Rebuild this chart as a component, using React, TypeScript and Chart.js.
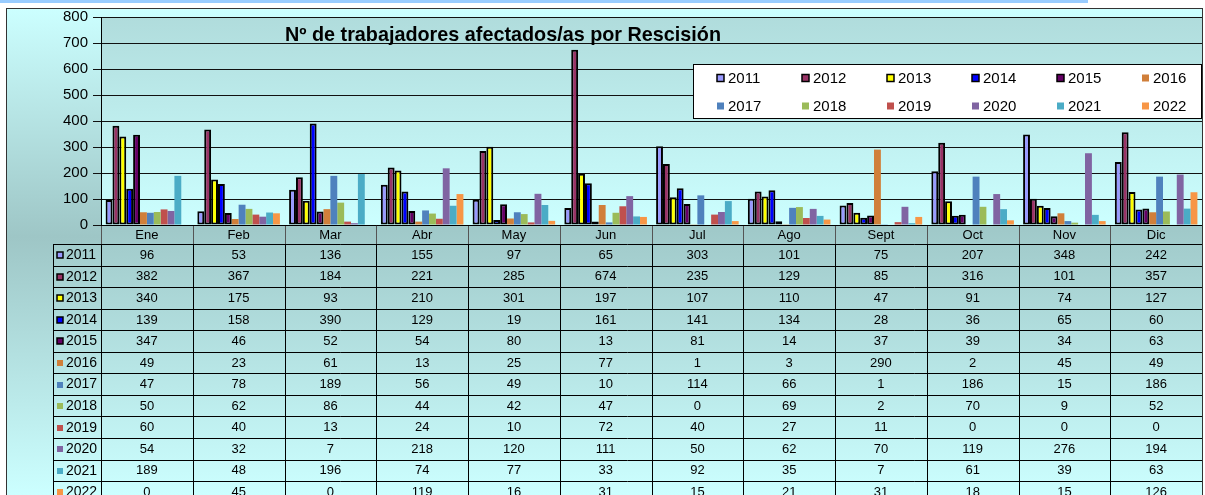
import React, { useEffect, useRef } from "react";
import Chart from "chart.js/auto";

const CATEGORIES = ["Ene", "Feb", "Mar", "Abr", "May", "Jun", "Jul", "Ago", "Sept", "Oct", "Nov", "Dic"];
const YEARS = ["2011", "2012", "2013", "2014", "2015", "2016", "2017", "2018", "2019", "2020", "2021", "2022"];

const V2011 = [96, 53, 136, 155, 97, 65, 303, 101, 75, 207, 348, 242];
const V2012 = [382, 367, 184, 221, 285, 674, 235, 129, 85, 316, 101, 357];
const V2013 = [340, 175, 93, 210, 301, 197, 107, 110, 47, 91, 74, 127];
const V2014 = [139, 158, 390, 129, 19, 161, 141, 134, 28, 36, 65, 60];
const V2015 = [347, 46, 52, 54, 80, 13, 81, 14, 37, 39, 34, 63];
const V2016 = [49, 23, 61, 13, 25, 77, 1, 3, 290, 2, 45, 49];
const V2017 = [47, 78, 189, 56, 49, 10, 114, 66, 1, 186, 15, 186];
const V2018 = [50, 62, 86, 44, 42, 47, 0, 69, 2, 70, 9, 52];
const V2019 = [60, 40, 13, 24, 10, 72, 40, 27, 11, 0, 0, 0];
const V2020 = [54, 32, 7, 218, 120, 111, 50, 62, 70, 119, 276, 194];
const V2021 = [189, 48, 196, 74, 77, 33, 92, 35, 7, 61, 39, 63];
const V2022 = [0, 45, 0, 119, 16, 31, 15, 21, 31, 18, 15, 126];

const SERIES = [V2011, V2012, V2013, V2014, V2015, V2016, V2017, V2018, V2019, V2020, V2021, V2022];

const Y_TICKS = [0, 100, 200, 300, 400, 500, 600, 700, 800];

const COLORS = ["#9999ff", "#993366", "#ffff00", "#0000ff", "#660066", "#d07f3a", "#4f81bd", "#9bbb59", "#c0504d", "#8064a2", "#4bacc6", "#f79646"];
const OUTLINED = [true, true, true, true, true, false, false, false, false, false, false, false];

const TITLE = "Nº de trabajadores afectados/as por Rescisión";
const FONT = '"Liberation Sans", Arial, sans-serif';

export default function App() {
  const ref = useRef<HTMLCanvasElement | null>(null);

  useEffect(() => {
    const canvas = ref.current;
    if (!canvas) return;

    const bgPlugin = {
      id: "bgPlugin",
      beforeDraw(chart: any) {
        const ctx = chart.ctx;
        const ca = chart.chartArea;
        const W = chart.width;
        const H = chart.height;
        ctx.save();
        ctx.fillStyle = "#ffffff";
        ctx.fillRect(0, 0, W, H);
        ctx.fillStyle = "#99ccff";
        ctx.fillRect(0, 0, 1088, 3);
        // outer area
        const og = ctx.createLinearGradient(0, 8, 0, H);
        og.addColorStop(0, "#ccffff");
        og.addColorStop(0.47, "#9ec6c6");
        og.addColorStop(1, "#ccffff");
        ctx.fillStyle = og;
        ctx.fillRect(6, 8, ca.right - 6, H - 8);
        // plot area
        const pg = ctx.createLinearGradient(0, ca.top, 0, ca.bottom);
        pg.addColorStop(0, "#b0dcdc");
        pg.addColorStop(1, "#ccffff");
        ctx.fillStyle = pg;
        ctx.fillRect(ca.left, ca.top, ca.right - ca.left, ca.bottom - ca.top);
        // table area
        const tg = ctx.createLinearGradient(0, ca.bottom, 0, H);
        tg.addColorStop(0, "#9fc8c8");
        tg.addColorStop(1, "#ccffff");
        ctx.fillStyle = tg;
        ctx.fillRect(ca.left, ca.bottom, ca.right - ca.left, H - ca.bottom);
        ctx.fillRect(53, ca.bottom + 19, ca.left - 53, H - ca.bottom - 19);
        ctx.restore();
      },
      afterDraw(chart: any) {
        const ctx = chart.ctx;
        const ca = chart.chartArea;
        const H = chart.height;
        const xs = chart.scales.x;
        const n = CATEGORIES.length;
        const cw = (ca.right - ca.left) / n;
        const headerH = 19;
        const rowH = 21.55;
        const tableTop = ca.bottom;
        const bodyTop = tableTop + headerH;
        const legLeft = 53;
        ctx.save();

        // header text
        ctx.fillStyle = "#000";
        ctx.font = `13px ${FONT}`;
        ctx.textAlign = "center";
        ctx.textBaseline = "middle";
        CATEGORIES.forEach((c, i) => {
          const cx = xs.getPixelForValue(i);
          ctx.fillText(c, cx, tableTop + headerH / 2 + 1);
        });
        // body values
        SERIES.forEach((vals, r) => {
          const cy = bodyTop + rowH * r + rowH / 2 + 0.5;
          vals.forEach((v, i) => {
            const cx = xs.getPixelForValue(i);
            ctx.fillText(String(v), cx, cy);
          });
          // legend column
          const sw = 6;
          const sx = 57;
          const sy = Math.round(cy - sw / 2);
          ctx.fillStyle = COLORS[r];
          ctx.fillRect(sx, sy, sw, sw);
          if (OUTLINED[r]) {
            ctx.strokeStyle = "#000";
            ctx.lineWidth = 1.5;
            ctx.strokeRect(sx, sy, sw, sw);
          }
          ctx.fillStyle = "#000";
          ctx.textAlign = "left";
          ctx.font = `14px ${FONT}`;
          ctx.fillText(YEARS[r], 66, cy);
          ctx.textAlign = "center";
          ctx.font = `13px ${FONT}`;
        });

        // header grid lines (gray)
        ctx.strokeStyle = "#555";
        ctx.lineWidth = 1;
        for (let i = 0; i <= n; i++) {
          const x = Math.round(ca.left + cw * i) + 0.5;
          ctx.beginPath();
          ctx.moveTo(x, tableTop);
          ctx.lineTo(x, bodyTop);
          ctx.stroke();
        }
        // body grid lines (black)
        ctx.strokeStyle = "#000";
        for (let i = 0; i <= n; i++) {
          const x = Math.round(ca.left + cw * i) + 0.5;
          ctx.beginPath();
          ctx.moveTo(x, bodyTop);
          ctx.lineTo(x, H);
          ctx.stroke();
        }
        ctx.beginPath();
        ctx.moveTo(legLeft + 0.5, bodyTop);
        ctx.lineTo(legLeft + 0.5, H);
        ctx.stroke();
        for (let r = 0; r <= SERIES.length; r++) {
          const y = Math.round(bodyTop + rowH * r) + 0.5;
          ctx.beginPath();
          ctx.moveTo(legLeft, y);
          ctx.lineTo(ca.right, y);
          ctx.stroke();
        }
        // x axis line
        ctx.beginPath();
        ctx.moveTo(ca.left, Math.round(ca.bottom) + 0.5);
        ctx.lineTo(ca.right, Math.round(ca.bottom) + 0.5);
        ctx.stroke();

        // title
        ctx.font = `bold 19.8px ${FONT}`;
        ctx.textAlign = "left";
        ctx.textBaseline = "middle";
        ctx.fillStyle = "#000";
        ctx.fillText(TITLE, 285, 36);

        // legend box
        const lx = 693;
        const ly = 64;
        const lw = ca.right - lx;
        const lh = 55;
        ctx.fillStyle = "#ffffff";
        ctx.fillRect(lx, ly, lw, lh);
        ctx.strokeStyle = "#000";
        ctx.lineWidth = 1;
        ctx.strokeRect(lx + 0.5, ly + 0.5, lw - 1, lh - 1);
        ctx.font = `15px ${FONT}`;
        ctx.textBaseline = "middle";
        YEARS.forEach((y, i) => {
          const col = i % 6;
          const row = Math.floor(i / 6);
          const sx = 717 + col * 85;
          const cy = ly + 14 + row * 28;
          ctx.fillStyle = COLORS[i];
          ctx.fillRect(sx, cy - 3.5, 7, 7);
          if (OUTLINED[i]) {
            ctx.strokeStyle = "#000";
            ctx.lineWidth = 1.5;
            ctx.strokeRect(sx, cy - 3.5, 7, 7);
          }
          ctx.fillStyle = "#000";
          ctx.textAlign = "left";
          ctx.fillText(y, sx + 11, cy + 1);
        });

        // outer border
        ctx.strokeStyle = "#333";
        ctx.lineWidth = 1;
        ctx.strokeRect(6.5, 8.5, ca.right - 6, H);
        ctx.restore();
      },
    };

    const chart = new Chart(canvas, {
      type: "bar",
      data: {
        labels: CATEGORIES,
        datasets: YEARS.map((y, i) => ({
          label: y,
          data: SERIES[i],
          backgroundColor: COLORS[i],
          borderColor: OUTLINED[i] ? "#000000" : "rgba(255,255,255,0.35)",
          borderWidth: OUTLINED[i] ? 2 : 0,
          borderSkipped: false,
          categoryPercentage: 0.9,
          barPercentage: 1.0,
        })),
      },
      options: {
        responsive: false,
        animation: false,
        devicePixelRatio: 1,
        layout: { padding: { left: 0, top: 17, right: 3, bottom: 270 } },
        plugins: {
          legend: { display: false },
          title: { display: false },
          tooltip: { enabled: false },
        },
        scales: {
          x: { display: false, offset: true },
          y: {
            min: 0,
            max: 800,
            afterFit(scale: any) {
              scale.width = 101;
            },
            afterBuildTicks(scale: any) {
              scale.ticks = Y_TICKS.map((v) => ({ value: v }));
            },
            ticks: {
              color: "#000",
              font: { family: FONT, size: 15 },
              padding: 5,
            },
            grid: {
              color: "#111",
              lineWidth: 1,
              tickLength: 8,
              drawTicks: true,
            },
            border: { color: "#000", width: 1 },
          },
        },
      },
      plugins: [bgPlugin],
    } as any);

    return () => chart.destroy();
  }, []);

  return (
    <div style={{ position: "absolute", left: 0, top: 0, width: 1205, height: 495 }}>
      <canvas ref={ref} width={1205} height={495} style={{ display: "block" }} />
    </div>
  );
}
